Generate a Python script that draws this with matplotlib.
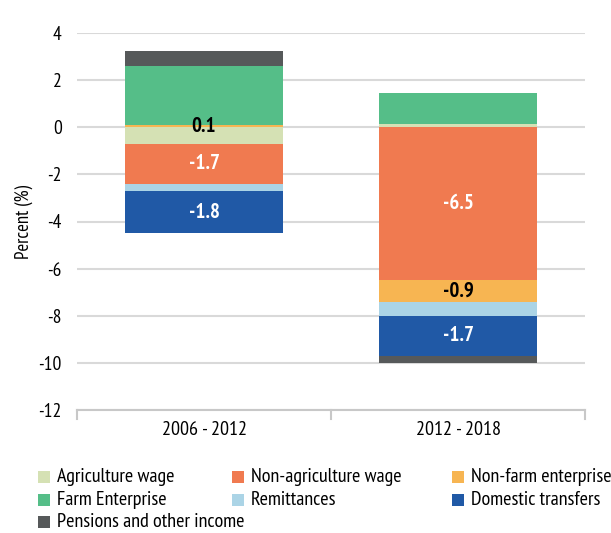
import numpy as np
import matplotlib
matplotlib.use('Agg')
import matplotlib.pyplot as plt
from matplotlib.patches import Rectangle

plt.rcParams['font.family'] = ['PT Sans Narrow', 'DejaVu Sans']

periods = ['2006 - 2012', '2012 - 2018']
series = ['Agriculture wage', 'Non-agriculture wage', 'Non-farm enterprise',
          'Farm Enterprise', 'Remittances', 'Domestic transfers',
          'Pensions and other income']
agri_wage = [-0.7, 0.15]
non_agri_wage = [-1.7, -6.5]
non_farm = [0.1, -0.9]
farm = [2.5, 1.3]
remittances = [-0.3, -0.6]
domestic = [-1.8, -1.7]
pensions = [0.65, -0.3]

colors = ['#d5e1b4', '#f07a50', '#f7b552', '#55be88', '#abd4e6', '#2059a6', '#56595a']
# segments that carry a value label, and the label colour
labelled = {'Non-agriculture wage': 'white', 'Domestic transfers': 'white',
            'Non-farm enterprise': 'black'}

values = [agri_wage, non_agri_wage, non_farm, farm, remittances, domestic, pensions]

W, H = 611, 533
fig = plt.figure(figsize=(W / 100, H / 100), dpi=100)
ax = fig.add_axes([77 / W, 1 - 410 / H, 508 / W, 377 / H])

x = np.arange(len(periods))
pos_base = np.zeros(len(periods))
neg_base = np.zeros(len(periods))
for name, vals, col in zip(series, values, colors):
    vals = np.array(vals)
    base = np.where(vals >= 0, pos_base, neg_base)
    ax.bar(x, vals, 0.62, bottom=base, color=col, zorder=3, label=name)
    if name in labelled:
        for xi, bi, v in zip(x, base, vals):
            ax.text(xi, bi + v / 2, f'{v:.1f}', ha='center', va='center',
                    color=labelled[name], fontsize=15, fontweight='bold', zorder=4)
    pos_base = pos_base + np.where(vals >= 0, vals, 0)
    neg_base = neg_base + np.where(vals < 0, vals, 0)

ax.set_xlim(-0.5, 1.5)
ax.set_ylim(-12, 4)
ax.set_yticks(np.arange(-12, 5, 2))
ax.set_yticklabels([str(v) for v in range(-12, 5, 2)], fontsize=14)
ax.yaxis.grid(True, color='#d9d9d9', linewidth=1.5, zorder=0)
ax.tick_params(axis='y', length=0, pad=11)
ax.set_ylabel('Percent (%)', fontsize=13.5, labelpad=4)

ax.set_xticks(x)
ax.set_xticklabels(periods, fontsize=14.5)
ax.tick_params(axis='x', length=0, pad=8)
# separators between the categories, hanging under the axis line
for xb in [-0.5, 0.5, 1.5]:
    ax.plot([xb, xb], [-12, -12.4], color='#c8c8c8', lw=1.5, clip_on=False, zorder=2)

for s in ['top', 'right', 'left']:
    ax.spines[s].set_visible(False)
ax.spines['bottom'].set_color('#c8c8c8')
ax.spines['bottom'].set_linewidth(1.5)

# legend, laid out in three columns
col_x = [38, 232, 452]
row_y = [477, 500, 522]
for i, (name, col) in enumerate(zip(series, colors)):
    r, c = divmod(i, 3)
    px, py = col_x[c], row_y[r]
    fig.add_artist(Rectangle((px / W, 1 - (py + 6) / H), 12 / W, 12 / H,
                             facecolor=col, edgecolor='none', transform=fig.transFigure))
    fig.text((px + 19) / W, 1 - py / H, name, fontsize=14.5, va='center', ha='left')

fig.savefig('out.png', dpi=100)
